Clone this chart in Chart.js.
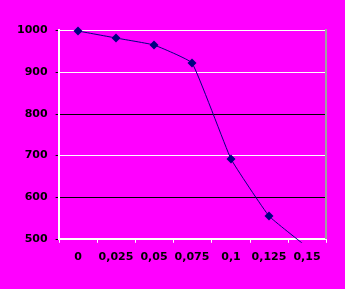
<!DOCTYPE html>
<html>
<head>
<meta charset="utf-8">
<script src="https://cdn.jsdelivr.net/npm/chart.js@4/dist/chart.umd.min.js"></script>
<style>
  html, body { margin: 0; padding: 0; background: #ff00ff; }
  #wrap { width: 345px; height: 289px; }
</style>
</head>
<body>
<div id="wrap"><canvas id="chart" width="345" height="289"></canvas></div>
<script>
// categories (x) and values
const categories = ['0', '0,025', '0,05', '0,075', '0,1', '0,125', '0,15'];
const values = [998, 981, 965, 921, 690, 554, 480];
const yTicks = [500, 600, 700, 800, 900, 1000];
// gridlines that show dark in the original
const darkLines = [600, 800];

const bgPlugin = {
  id: 'bg',
  beforeDraw(chart) {
    const ctx = chart.ctx;
    ctx.save();
    ctx.fillStyle = '#ff00ff';
    ctx.fillRect(0, 0, chart.width, chart.height);
    ctx.restore();
  }
};

const ctx = document.getElementById('chart').getContext('2d');
new Chart(ctx, {
  type: 'line',
  data: {
    labels: categories,
    datasets: [{
      data: values,
      borderColor: '#000080',
      backgroundColor: '#000080',
      borderWidth: 1,
      tension: 0.1,
      fill: false,
      pointStyle: 'rectRot',
      pointRadius: 4.5,
      pointBorderWidth: 0,
      clip: { left: 5, top: 5, right: 5, bottom: 4 }
    }]
  },
  options: {
    responsive: false,
    animation: false,
    layout: { padding: { left: 9, top: 30, right: 11, bottom: 17 } },
    plugins: {
      legend: { display: false },
      tooltip: { enabled: false }
    },
    scales: {
      x: {
        offset: true,
        alignToPixels: true,
        grid: {
          offset: true,
          drawOnChartArea: false,
          color: '#ffffff',
          tickLength: 4
        },
        border: { color: '#ffffff', width: 2 },
        ticks: {
          color: '#000000',
          padding: 8,
          maxRotation: 0,
          autoSkip: false,
          font: { family: 'DejaVu Sans', size: 11, weight: 'bold' }
        }
      },
      y: {
        min: 500,
        max: 1000,
        alignToPixels: true,
        afterBuildTicks: axis => { axis.ticks = yTicks.map(v => ({ value: v })); },
        grid: {
          color: c => darkLines.includes(c.tick && c.tick.value) ? '#000000' : '#ffffff',
          tickColor: '#000000',
          tickLength: 3,
          lineWidth: 1
        },
        border: { color: '#ffffff', width: 2 },
        ticks: {
          color: '#000000',
          padding: 8,
          callback: v => String(v),
          font: { family: 'DejaVu Sans', size: 11, weight: 'bold' }
        }
      },
      y2: {
        position: 'right',
        min: 500,
        max: 1000,
        grid: { display: false },
        ticks: { display: false },
        border: { color: '#a0a0a0', width: 2 }
      }
    }
  },
  plugins: [bgPlugin]
});
</script>
</body>
</html>
